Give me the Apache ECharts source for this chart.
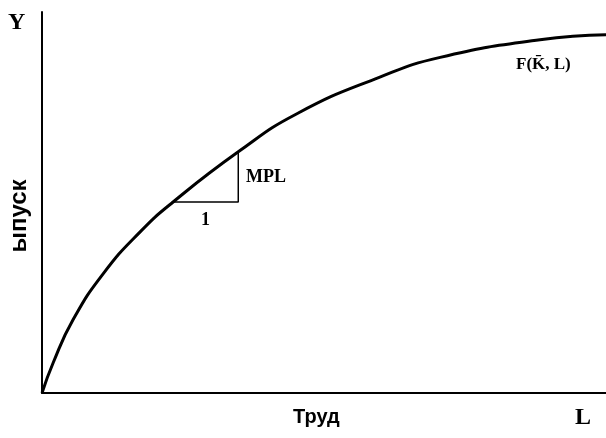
<!DOCTYPE html>
<html><head><meta charset="utf-8">
<script src="https://cdn.jsdelivr.net/npm/echarts@6/dist/echarts.min.js"></script>
<style>html,body{margin:0;padding:0;background:#fff}#c{width:606px;height:438px}</style>
</head><body><div id="c"></div>
<script>
const labourValues = [0, 0.20, 0.55, 1.09, 1.74, 2.33, 3.48, 4.52, 5.99, 7.06, 8.83, 10];
const outputValues = [0, 0.80, 1.92, 3.14, 4.23, 5.02, 6.33, 7.33, 8.29, 8.81, 9.27, 9.40];
const triangleL = [2.30, 3.48, 3.48];
const triangleY = [5.01, 5.01, 6.33];
const axisLabels = { y: 'Y', x: 'L', yName: 'ыпуск', xName: 'Труд', curve: 'F(K̄, L)', mpl: 'MPL', one: '1' };

const curve = labourValues.map((v, i) => [v, outputValues[i]]);
const tri = triangleL.map((v, i) => [v, triangleY[i]]);

const chart = echarts.init(document.getElementById('c'), null, { renderer: 'canvas' });
const serif = '"Liberation Serif", "DejaVu Serif", serif';
chart.setOption({
  backgroundColor: '#fff',
  animation: false,
  grid: { left: 42, right: 0, top: 12, bottom: 45 },
  xAxis: { type: 'value', min: 0, max: 10, axisLine: { show: true, lineStyle: { color: '#000', width: 2 } },
    axisTick: { show: false }, axisLabel: { show: false }, splitLine: { show: false } },
  yAxis: { type: 'value', min: 0, max: 10, axisLine: { show: true, lineStyle: { color: '#000', width: 2 } },
    axisTick: { show: false }, axisLabel: { show: false }, splitLine: { show: false } },
  series: [
    { type: 'line', data: curve, smooth: 0.5, symbol: 'none', lineStyle: { color: '#000', width: 3 } },
    { type: 'line', data: tri, symbol: 'none', lineStyle: { color: '#000', width: 1.5 } }
  ],
  graphic: [
    { type: 'text', left: 8, top: 11, style: { text: axisLabels.y, font: 'bold 24px ' + serif, fill: '#000' } },
    { type: 'text', left: 575, top: 406, style: { text: axisLabels.x, font: 'bold 24px ' + serif, fill: '#000' } },
    { type: 'text', left: 293, top: 407, style: { text: axisLabels.xName, font: 'bold 20px "Liberation Sans", Arial, sans-serif', fill: '#000' } },
    { type: 'text', x: 19, y: 216, rotation: Math.PI / 2, style: { text: axisLabels.yName, font: 'bold 24px "Liberation Sans", Arial, sans-serif', fill: '#000', align: 'center', verticalAlign: 'middle' } },
    { type: 'text', left: 516, top: 56, style: { text: axisLabels.curve, font: 'bold 17px ' + serif, fill: '#000' } },
    { type: 'text', left: 246, top: 168, style: { text: axisLabels.mpl, font: 'bold 18px ' + serif, fill: '#000' } },
    { type: 'text', left: 201, top: 211, style: { text: axisLabels.one, font: 'bold 18px ' + serif, fill: '#000' } }
  ]
});
</script></body></html>
